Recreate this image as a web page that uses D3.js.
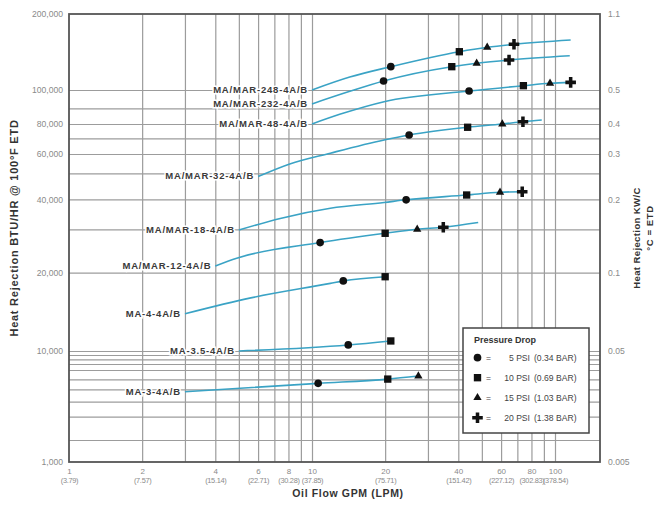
<!DOCTYPE html>
<html>
<head>
<meta charset="utf-8">
<title>Heat Rejection vs Oil Flow</title>
<script src="https://cdnjs.cloudflare.com/ajax/libs/d3/7.8.5/d3.min.js"></script>
<style>
    body { margin: 0; background: #fff; }
    text { font-family: "Liberation Sans", Arial, sans-serif; }
    .ticks text { fill: #8a8a8a; }
    .ticks path { display: none; }
    .lpm text { letter-spacing: -0.3px; }
    .grid line { stroke: #9c9c9c; stroke-width: 1.2px; }
    .grid path { display: none; }
    .curve { fill: none; stroke: #3aa3c5; stroke-width: 1.6px; }
    .series-label {
        font-size: 9.5px; font-weight: bold; fill: #3a3a3a; letter-spacing: 0.8px;
        stroke: #fff; stroke-width: 3px; paint-order: stroke;
    }
    .axis-title { font-weight: bold; fill: #333; }
    .legend text { fill: #444; font-size: 8.6px; }
</style>
</head>
<body>
<svg id="chart" width="659" height="514"></svg>
<script>
    // ---- data ----
    const xGrid = [2, 3, 4, 5, 6, 7, 8, 9, 10, 20, 30, 40, 50, 60, 70, 80, 90, 100];
    const xTickGpm = [1, 2, 4, 6, 8, 10, 20, 40, 60, 80, 100];
    const xTickLpm = ["(3.79)", "(7.57)", "(15.14)", "(22.71)", "(30.28)", "(37.85)",
        "(75.71)", "(151.42)", "(227.12)", "(302.83)", "(378.54)"];

    const yGrid = [1500, 2000, 3000, 4000, 5000, 6000, 7000, 8000, 9000, 10000,
        20000, 30000, 40000, 50000, 60000, 70000, 80000, 90000, 100000];
    const leftTicks = [200000, 100000, 80000, 60000, 40000, 20000, 10000, 1000];
    const rightTicks = [200000, 100000, 80000, 60000, 40000, 20000, 10000, 1000];
    const rightLabels = ["1.1", "0.5", "0.4", "0.3", "0.2", "0.1", "0.05", "0.005"];

    const seriesNames = ["MA/MAR-248-4A/B", "MA/MAR-232-4A/B", "MA/MAR-48-4A/B", "MA/MAR-32-4A/B",
        "MA/MAR-18-4A/B", "MA/MAR-12-4A/B", "MA-4-4A/B", "MA-3.5-4A/B", "MA-3-4A/B"];

    // [gpm, btu/hr] along each curve
    const seriesLines = [
        [[10, 100000], [14.3, 112500], [21.1, 123700], [40.4, 141800], [52.6, 147600], [67.8, 151700], [116, 157800]],
        [[10, 92300], [14, 98800], [19.7, 108600], [37.6, 123700], [47.6, 127600], [64.7, 131500], [115, 136700]],
        [[10, 80000], [13, 86000], [19.8, 93500], [44.3, 99400], [74.1, 104000], [95.4, 106300], [116, 107200]],
        [[6, 48600], [8.1, 54600], [11.9, 60500], [19.8, 68850], [25.1, 72200], [43.7, 77600], [60.7, 80000], [73.8, 81400], [88.2, 82400]],
        [[5, 29800], [7.4, 33300], [11.9, 36700], [19.8, 38800], [24.4, 39800], [43.3, 41500], [59.4, 42500], [73.3, 42700]],
        [[4, 21300], [4.9, 22900], [10.8, 26500], [20, 28900], [27.1, 30000], [34.7, 30600], [48.3, 32000]],
        [[3, 13900], [5.6, 16000], [11.9, 18200], [13.45, 18600], [20, 19300]],
        [[5, 10000], [14.1, 10550], [21.1, 10930]],
        [[3, 3780], [10.6, 4570], [20.5, 5020], [27.4, 5335]]
    ];

    // [psi, gpm, btu/hr] pressure drop markers
    const seriesDrops = [
        [[5, 21.1, 123700], [10, 40.4, 141800], [15, 52.6, 147600], [20, 67.8, 151700]],
        [[5, 19.7, 108600], [10, 37.6, 123700], [15, 47.6, 127600], [20, 64.7, 131500]],
        [[5, 44.3, 99400], [10, 74.1, 104000], [15, 95.4, 106300], [20, 116, 107200]],
        [[5, 25.1, 72200], [10, 43.7, 77600], [15, 60.7, 80000], [20, 73.8, 81400]],
        [[5, 24.4, 39800], [10, 43.3, 41500], [15, 59.4, 42500], [20, 73.3, 42700]],
        [[5, 10.8, 26500], [10, 20, 28900], [15, 27.1, 30000], [20, 34.7, 30600]],
        [[5, 13.45, 18600], [10, 20, 19300]],
        [[5, 14.1, 10550], [10, 21.1, 10930]],
        [[5, 10.6, 4570], [10, 20.5, 5020], [15, 27.4, 5335]]
    ];

    const dropPsi = [5, 10, 15, 20];
    const dropPsiLabels = ["5 PSI", "10 PSI", "15 PSI", "20 PSI"];
    const dropBarLabels = ["(0.34 BAR)", "(0.69 BAR)", "(1.03 BAR)", "(1.38 BAR)"];

    // ---- layout ----
    const margin = {top: 14, left: 69},
        width = 531,
        height = 448;

    const svg = d3.select("#chart");
    const g = svg.append("g").attr("transform", "translate(" + margin.left + "," + margin.top + ")");

    const x = d3.scaleLog().domain([1, 100]).range([0, 486]);
    // the printed y axis is not an even log scale, so it is calibrated to its own grid
    const yCalibBtu = [1000, 1500, 2000, 3000, 4000, 5000, 6000, 7000, 8000, 9000, 10000,
        20000, 30000, 40000, 50000, 60000, 70000, 80000, 90000, 100000, 200000];
    const yCalibPx = [448, 426, 402.7, 387.7, 375.3, 365.3, 356, 350, 345.3, 341, 337,
        258.7, 215.3, 185.3, 159.3, 140, 124.3, 110, 94.3, 76, 0];
    const y = d3.scaleLog().domain(yCalibBtu).range(yCalibPx);

    const symbolFor = {
        5: d3.symbol().type(d3.symbolCircle).size(46),
        10: d3.symbol().type(d3.symbolSquare).size(54),
        15: d3.symbol().type(d3.symbolTriangle).size(30),
        20: d3.symbol().type(d3.symbolCross).size(62)
    };

    // grid
    g.append("g").attr("class", "grid")
        .attr("transform", "translate(0," + height + ")")
        .call(d3.axisBottom(x).tickValues(xGrid).tickSize(-height).tickFormat(""));
    g.append("g").attr("class", "grid")
        .call(d3.axisLeft(y).tickValues(yGrid).tickSize(-width).tickFormat(""));

    // tick labels
    g.append("g").attr("class", "ticks")
        .attr("transform", "translate(0," + height + ")")
        .call(d3.axisBottom(x).tickValues(xTickGpm).tickSize(0).tickPadding(6).tickFormat(d3.format("d")))
        .attr("font-size", 8).attr("font-family", null);
    g.append("g").attr("class", "ticks lpm")
        .attr("transform", "translate(0," + height + ")")
        .call(d3.axisBottom(x).tickValues(xTickGpm).tickSize(0).tickPadding(16)
            .tickFormat(d => xTickLpm[xTickGpm.indexOf(d)]))
        .attr("font-size", 7.4).attr("font-family", null);
    g.append("g").attr("class", "ticks")
        .call(d3.axisLeft(y).tickValues(leftTicks).tickSize(0).tickPadding(6).tickFormat(d3.format(",")))
        .attr("font-size", 8.6).attr("font-family", null);
    g.append("g").attr("class", "ticks")
        .attr("transform", "translate(" + width + ",0)")
        .call(d3.axisRight(y).tickValues(rightTicks).tickSize(0).tickPadding(8)
            .tickFormat(d => rightLabels[rightTicks.indexOf(d)]))
        .attr("font-size", 8.6).attr("font-family", null);

    // curves
    const line = d3.line()
        .x(d => x(d[0]))
        .y(d => y(d[1]))
        .curve(d3.curveMonotoneX);

    g.selectAll(".curve")
        .data(seriesLines)
        .enter().append("path")
        .attr("class", "curve")
        .attr("d", line);

    // pressure drop markers
    seriesDrops.forEach(function (drops) {
        g.selectAll(null)
            .data(drops)
            .enter().append("path")
            .attr("transform", d => "translate(" + x(d[1]) + "," + y(d[2]) + ")")
            .attr("d", d => symbolFor[d[0]]())
            .attr("fill", "#111");
    });

    // series labels at the start of each curve
    g.selectAll(".series-label")
        .data(seriesNames)
        .enter().append("text")
        .attr("class", "series-label")
        .attr("x", (d, i) => x(seriesLines[i][0][0]) - 4)
        .attr("y", (d, i) => y(seriesLines[i][0][1]))
        .attr("dy", "0.3em")
        .style("text-anchor", "end")
        .text(d => d);

    // plot border
    g.append("rect")
        .attr("width", width).attr("height", height)
        .attr("fill", "none").attr("stroke", "#555").attr("stroke-width", 1.8);

    // axis titles
    svg.append("text").attr("class", "axis-title")
        .attr("x", 348).attr("y", 497)
        .style("text-anchor", "middle")
        .style("font-size", "10.5px").style("letter-spacing", "0.65px")
        .text("Oil Flow GPM (LPM)");
    svg.append("text").attr("class", "axis-title")
        .attr("transform", "translate(18,228) rotate(-90)")
        .style("text-anchor", "middle")
        .style("font-size", "11px").style("letter-spacing", "0.75px")
        .text("Heat Rejection BTU/HR @ 100°F ETD");
    svg.append("text").attr("class", "axis-title")
        .attr("transform", "translate(640,238) rotate(-90)")
        .style("text-anchor", "middle")
        .style("font-size", "9.5px").style("letter-spacing", "0.4px")
        .text("Heat Rejection KW/C");
    svg.append("text").attr("class", "axis-title")
        .attr("transform", "translate(653,228) rotate(-90)")
        .style("text-anchor", "middle")
        .style("font-size", "9.5px").style("letter-spacing", "0.6px")
        .text("°C = ETD");

    // legend
    const legend = svg.append("g").attr("class", "legend").attr("transform", "translate(463,328)");
    legend.append("rect")
        .attr("width", 126).attr("height", 105)
        .attr("fill", "#fff").attr("stroke", "#444").attr("stroke-width", 1.5);
    legend.append("text")
        .attr("x", 11).attr("y", 15)
        .style("font-weight", "bold").style("font-size", "9px").style("fill", "#333")
        .text("Pressure Drop");

    const rows = legend.selectAll(".row")
        .data(dropPsi)
        .enter().append("g")
        .attr("class", "row")
        .attr("transform", (d, i) => "translate(0," + (29.7 + i * 20) + ")");
    rows.append("path")
        .attr("transform", "translate(14.5,0)")
        .attr("d", d => symbolFor[d]())
        .attr("fill", "#111");
    rows.append("text").attr("x", 23).attr("dy", "0.35em").text("=");
    rows.append("text").attr("x", 67).attr("dy", "0.35em")
        .style("text-anchor", "end")
        .text((d, i) => dropPsiLabels[i]);
    rows.append("text").attr("x", 71).attr("dy", "0.35em")
        .text((d, i) => dropBarLabels[i]);
</script>
</body>
</html>
